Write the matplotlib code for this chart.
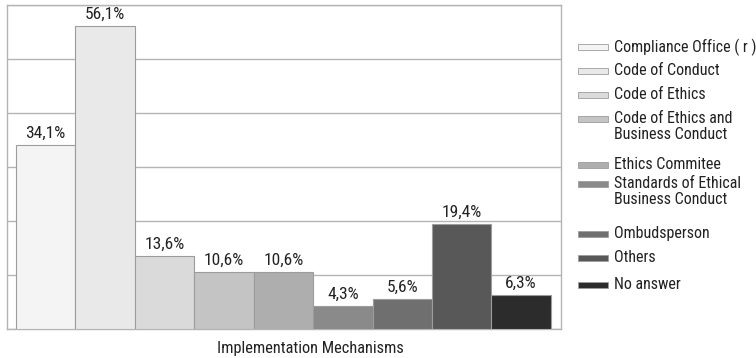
import matplotlib
matplotlib.use("Agg")
import matplotlib.pyplot as plt
from matplotlib.patches import Rectangle

plt.rcParams['font.family'] = ['Roboto Condensed', 'Open Sans Condensed', 'DejaVu Sans']
plt.rcParams['font.stretch'] = 'condensed'

# survey answers, share of companies (%)
mechanisms = ['Compliance Office ( r )', 'Code of Conduct', 'Code of Ethics',
              'Code of Ethics and\nBusiness Conduct', 'Ethics Commitee',
              'Standards of Ethical\nBusiness Conduct', 'Ombudsperson',
              'Others', 'No answer']
shares = [34.1, 56.1, 13.6, 10.6, 10.6, 4.3, 5.6, 19.4, 6.3]
grays = ['#f4f4f4', '#e9e9e9', '#d9dad9', '#c4c4c4', '#adaead',
         '#8a8a8a', '#6f6f6f', '#585858', '#2c2c2c']

fig = plt.figure(figsize=(7.56, 3.58), dpi=100)
ax = fig.add_axes([7/756, 29/358, 554/756, 324/358])

x = range(len(shares))
bars = ax.bar(x, shares, width=1.0, color=grays, edgecolor='#9c9c9c',
              linewidth=0.8, zorder=3)

for b, v in zip(bars, shares):
    ax.annotate(f'{v:.1f}%'.replace('.', ','),
                (b.get_x() + b.get_width() / 2, v),
                xytext=(0, 3), textcoords='offset points',
                ha='center', va='bottom', fontsize=12.5, color='#222222')

ax.set_xlim(-0.65, 8.67)
ax.set_ylim(0, 60)
ax.set_yticks(range(0, 61, 10))
ax.yaxis.grid(True, color='#b4b4b4', linewidth=1.0, zorder=0)
ax.set_xticks([])
ax.tick_params(axis='y', length=0, labelleft=False)
for s in ax.spines.values():
    s.set_color('#b4b4b4')
    s.set_linewidth(1.0)

fig.text(310/756, 1 - 349/358, 'Implementation Mechanisms',
         ha='center', va='center', fontsize=11.8, color='#222222')

# legend drawn by hand so the swatch sits on the first text line
text_y = [46, 70, 94, 118, 164, 183, 233, 257, 284]
for label, color, ty in zip(mechanisms, grays, text_y):
    fig.add_artist(Rectangle((578/756, 1 - (ty + 4)/358), 30/756, 6/358,
                             transform=fig.transFigure, facecolor=color,
                             edgecolor='#9c9c9c', linewidth=0.6))
    fig.text(614/756, 1 - (ty - 7)/358, label, ha='left', va='top',
             fontsize=11.5, color='#222222', linespacing=1.1)

fig.savefig('out.png', dpi=100)
